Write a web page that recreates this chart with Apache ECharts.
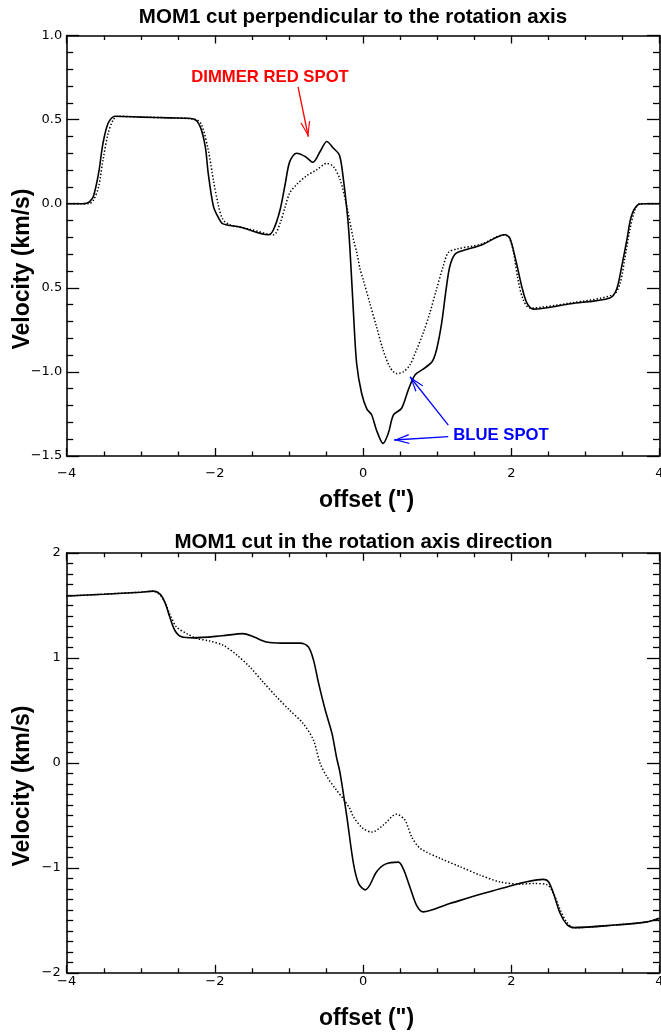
<!DOCTYPE html>
<html>
<head>
<meta charset="utf-8">
<script src="https://cdn.jsdelivr.net/npm/echarts@6/dist/echarts.min.js"></script>
<style>
  html, body { margin: 0; padding: 0; background: #ffffff; }
  #chart { width: 661px; height: 1035px; }
</style>
</head>
<body>
<div id="chart"></div>
<script>
// ---- Cut perpendicular to the rotation axis ----
const perpOffset = [-4.0, -3.80, -3.73, -3.69, -3.64, -3.57, -3.51, -3.44, -3.35, -3.0, -2.6, -2.29, -2.20, -2.13, -2.09, -2.02, -1.95, -1.89,
  -1.66, -1.28, -1.21, -1.12, -1.05, -0.99, -0.90, -0.78, -0.68, -0.58, -0.49, -0.40, -0.32, -0.27, -0.21, -0.18, -0.13, -0.087, -0.02,
  0.05, 0.116, 0.18, 0.27, 0.34, 0.41, 0.52, 0.61, 0.70, 0.81, 0.93, 0.99, 1.06, 1.12, 1.17, 1.24, 1.35, 1.6, 1.915, 1.98, 2.07, 2.14,
  2.21, 2.30, 2.8, 3.33, 3.42, 3.49, 3.56, 3.62, 3.71, 3.80, 4.0];
const perpSolid = [0, 0, 0.003, 0.012, 0.043, 0.18, 0.36, 0.48, 0.52, 0.515, 0.51, 0.504, 0.46, 0.34, 0.18, -0.016, -0.085, -0.12,
  -0.139, -0.185, -0.155, -0.036, 0.12, 0.25, 0.30, 0.28, 0.246, 0.31, 0.37, 0.33, 0.29, 0.16, -0.075, -0.25, -0.65, -0.95, -1.127,
  -1.22, -1.256, -1.345, -1.425, -1.365, -1.256, -1.216, -1.107, -1.018, -0.984, -0.94, -0.87, -0.71, -0.51, -0.373, -0.30, -0.278, -0.245, -0.185, -0.204, -0.353, -0.49,
  -0.59, -0.627, -0.595, -0.56, -0.51, -0.373, -0.214, -0.075, -0.006, 0, 0];

const perpOffsetDot = [-4.0, -3.70, -3.64, -3.57, -3.51, -3.44, -3.37, -3.31, -3.0, -2.6, -2.25, -2.18, -2.09, -2.02, -1.95, -1.89, -1.80,
  -1.5, -1.21, -1.12, -1.05, -0.99, -0.90, -0.76, -0.63, -0.49, -0.40, -0.31, -0.22, -0.13, -0.086, -0.04, 0.0, 0.09, 0.18, 0.27, 0.36,
  0.45, 0.54, 0.63, 0.72, 0.81, 0.90, 0.99, 1.08, 1.15, 1.26, 1.6, 1.9, 1.97, 2.03, 2.09, 2.16, 2.25, 2.8, 3.38, 3.47, 3.53, 3.60, 3.67,
  3.74, 4.0];
const perpDotted = [0, 0, 0.02, 0.10, 0.26, 0.42, 0.50, 0.52, 0.515, 0.51, 0.50, 0.47, 0.32, 0.14, -0.016, -0.095, -0.125,
  -0.155, -0.185, -0.115, -0.016, 0.064, 0.113, 0.167, 0.20, 0.24, 0.22, 0.143, -0.016, -0.214, -0.29, -0.39, -0.45, -0.59, -0.73, -0.87, -0.97,
  -1.01, -1.0, -0.96, -0.87, -0.77, -0.65, -0.51, -0.373, -0.29, -0.27, -0.24, -0.185, -0.20, -0.29, -0.45, -0.57, -0.62, -0.59, -0.54, -0.47, -0.33, -0.155, -0.036,
  0, 0];

// ---- Cut along the rotation axis ----
const axisOffset = [-4.0, -3.5, -3.0, -2.83, -2.74, -2.67, -2.61, -2.54, -2.45, -2.29, -1.9, -1.62, -1.48, -1.30, -1.1, -0.85, -0.74,
  -0.67, -0.60, -0.51, -0.42, -0.36, -0.31, -0.22, -0.13, -0.06, 0.03, 0.09, 0.18, 0.30, 0.475, 0.54, 0.63, 0.72, 0.81, 1.17, 1.85,
  2.43, 2.50, 2.57, 2.66, 2.75, 2.84, 3.4, 3.83, 4.0];
const axisSolid = [1.588, 1.605, 1.625, 1.635, 1.606, 1.52, 1.39, 1.26, 1.20, 1.19, 1.21, 1.23, 1.20, 1.15, 1.14, 1.14, 1.105,
  0.98, 0.756, 0.50, 0.28, 0.057, -0.10, -0.51, -0.96, -1.15, -1.21, -1.165, -1.04, -0.965, -0.946, -1.006, -1.18, -1.355, -1.42, -1.34, -1.20,
  -1.11, -1.13, -1.245, -1.435, -1.54, -1.57, -1.545, -1.515, -1.48];

const axisOffsetDot = [-4.0, -3.0, -2.83, -2.74, -2.67, -2.61, -2.52, -2.38, -2.25, -2.07, -1.89, -1.71, -1.53, -1.35, -1.17, -0.99,
  -0.81, -0.67, -0.58, -0.49, -0.36, -0.27, -0.18, -0.13, 0.0, 0.12, 0.27, 0.45, 0.565, 0.655, 0.77, 1.04, 1.31, 1.58, 1.85, 2.12,
  2.30, 2.48, 2.57, 2.66, 2.75, 2.84, 3.4, 3.83, 4.0];
const axisDotted = [1.588, 1.625, 1.635, 1.60, 1.52, 1.42, 1.295, 1.23, 1.185, 1.16, 1.12, 1.03, 0.914, 0.77, 0.63, 0.50,
  0.375, 0.216, -0.006, -0.13, -0.26, -0.34, -0.435, -0.515, -0.626, -0.66, -0.595, -0.49, -0.546, -0.705, -0.815, -0.91, -0.99, -1.07, -1.135, -1.155,
  -1.15, -1.16, -1.245, -1.40, -1.52, -1.57, -1.545, -1.515, -1.48];

// ---- Tick labels ----
const xTickValues = [-4, -2, 0, 2, 4];
const xTickLabels = ['\u22124', '\u22122', '0', '2', '4'];
const perpYTickValues = [-1.5, -1.0, -0.5, 0.0, 0.5, 1.0];
const perpYTickLabels = ['\u22121.5', '\u22121.0', '0.5', '0.0', '0.5', '1.0'];
const axisYTickValues = [-2, -1, 0, 1, 2];
const axisYTickLabels = ['\u22122', '\u22121', '0', '1', '2'];

// ---- Annotation arrows (data coordinates: [offset, velocity]) ----
const redArrow = [[-0.878, 0.694], [-0.739, 0.398]];
const blueArrows = [
  [[1.150, -1.385], [0.417, -1.405]],
  [[1.150, -1.316], [0.633, -1.029]]
];

const zip = (xs, ys) => xs.map((x, i) => [x, ys[i]]);
const lookup = (values, labels) => v => {
  const i = values.findIndex(t => Math.abs(t - v) < 1e-9);
  return i < 0 ? '' : labels[i];
};

const TICK_FONT = '"DejaVu Sans"';
const BOLD_FONT = '"Liberation Sans", Arial, sans-serif';
const chevron = 'path://M5,0L10,16L8.7,16L5,3.6L1.3,16L0,16Z';

function xAxisPair(gridIndex, labelMargin) {
  const common = {
    type: 'value', gridIndex, min: -4, max: 4, interval: 2,
    axisLine: { show: true, onZero: false, lineStyle: { color: '#000', width: 1.6 } },
    axisTick: { show: true, inside: true, length: 8, lineStyle: { color: '#000', width: 1.3 } },
    minorTick: { show: true, splitNumber: 4, length: 4.5, lineStyle: { color: '#000', width: 1.3 } },
    splitLine: { show: false }, minorSplitLine: { show: false }
  };
  return [
    Object.assign({}, common, {
      position: 'bottom',
      axisLabel: { show: true, color: '#000', fontFamily: TICK_FONT, fontSize: 13, margin: labelMargin,
        hideOverlap: false, formatter: lookup(xTickValues, xTickLabels) }
    }),
    Object.assign({}, common, { position: 'top', axisLabel: { show: false } })
  ];
}

function yAxisPair(gridIndex, min, max, interval, minorSplit, values, labels, labelMargin) {
  const common = {
    type: 'value', gridIndex, min, max, interval,
    axisLine: { show: true, onZero: false, lineStyle: { color: '#000', width: 1.6 } },
    axisTick: { show: true, inside: true, length: 12.5, lineStyle: { color: '#000', width: 1.3 } },
    minorTick: { show: true, splitNumber: minorSplit, length: 6.5, lineStyle: { color: '#000', width: 1.3 } },
    splitLine: { show: false }, minorSplitLine: { show: false }
  };
  return [
    Object.assign({}, common, {
      position: 'left',
      axisLabel: { show: true, color: '#000', fontFamily: TICK_FONT, fontSize: 13, margin: labelMargin,
        formatter: lookup(values, labels) }
    }),
    Object.assign({}, common, { position: 'right', axisLabel: { show: false } })
  ];
}

function curve(data, xi, yi, dotted) {
  return {
    type: 'line', xAxisIndex: xi, yAxisIndex: yi, data,
    showSymbol: false, symbol: 'none', smooth: 0.3, silent: true, animation: false, clip: true,
    lineStyle: dotted
      ? { color: '#000', width: 1.5, type: [1.4, 2.0], cap: 'butt' }
      : { color: '#000', width: 1.6 },
    z: dotted ? 2 : 3
  };
}

function arrowSeries(lines, color) {
  return {
    type: 'line', xAxisIndex: 0, yAxisIndex: 0, data: [], silent: true, animation: false,
    markLine: {
      silent: true, animation: false,
      symbol: ['none', chevron], symbolSize: [10, 15], symbolOffset: [[0, 0], [0, 7.5]],
      label: { show: false },
      lineStyle: { color, width: 1.3, type: 'solid' },
      emphasis: { disabled: true },
      data: lines.map(([a, b]) => [{ coord: a }, { coord: b }])
    }
  };
}

function text(str, x, y, size, color, rotation) {
  return {
    type: 'text', x, y, rotation: rotation || 0, silent: true,
    style: { text: str, x: 0, y: 0, fill: color || '#000', font: 'bold ' + size + 'px ' + BOLD_FONT,
      align: 'center', verticalAlign: 'middle' }
  };
}

const chart = echarts.init(document.getElementById('chart'), null, { renderer: 'canvas' });
chart.setOption({
  backgroundColor: '#ffffff',
  animation: false,
  grid: [
    { left: 66.7, right: 1.5, top: 35.5, height: 420.5, outerBoundsMode: 'none', containLabel: false },
    { left: 66.7, right: 1.5, top: 552.8, height: 420, outerBoundsMode: 'none', containLabel: false }
  ],
  xAxis: [...xAxisPair(0, 11), ...xAxisPair(1, 2.5)],
  yAxis: [
    ...yAxisPair(0, -1.5, 1.0, 0.5, 5, perpYTickValues, perpYTickLabels, 4.5),
    ...yAxisPair(1, -2, 2, 1, 10, axisYTickValues, axisYTickLabels, 6)
  ],
  series: [
    curve(zip(perpOffsetDot, perpDotted), 0, 0, true),
    curve(zip(perpOffset, perpSolid), 0, 0, false),
    curve(zip(axisOffsetDot, axisDotted), 2, 2, true),
    curve(zip(axisOffset, axisSolid), 2, 2, false),
    arrowSeries([redArrow], '#ff0000'),
    arrowSeries(blueArrows, '#0000ff')
  ],
  graphic: [
    text('MOM1 cut perpendicular to the rotation axis', 353, 17, 20.5),
    text('MOM1 cut in the rotation axis direction', 363.5, 542.5, 20.5),
    text('Velocity (km/s)', 23, 269, 23, '#000', Math.PI / 2),
    text('Velocity (km/s)', 23, 786, 23, '#000', Math.PI / 2),
    text('offset (")', 366.5, 501, 23),
    text('offset (")', 366.5, 1018.5, 23),
    text('DIMMER RED SPOT', 270, 77.5, 16.7, '#ff0000'),
    text('BLUE SPOT', 501, 435.5, 16.7, '#0000ff')
  ]
});
</script>
</body>
</html>
